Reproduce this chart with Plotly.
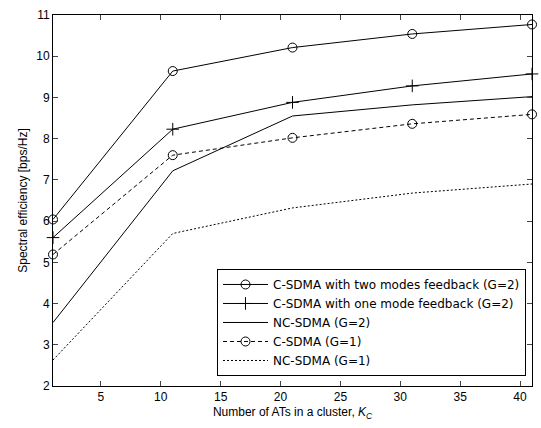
import plotly.graph_objects as go

x_vals = [1, 11, 21, 31, 41]
c_two_g2 = [6.04, 9.64, 10.21, 10.54, 10.77]
c_one_g2 = [5.60, 8.23, 8.88, 9.28, 9.57]
nc_g2 = [3.54, 7.22, 8.55, 8.82, 9.02]
c_g1 = [5.19, 7.60, 8.02, 8.36, 8.59]
nc_g1 = [2.63, 5.70, 6.32, 6.68, 6.90]

names = [
    "C-SDMA with two modes feedback (G=2)",
    "C-SDMA with one mode feedback (G=2)",
    "NC-SDMA (G=2)",
    "C-SDMA (G=1)",
    "NC-SDMA (G=1)",
]
x_ticks = [5, 10, 15, 20, 25, 30, 35, 40]
y_ticks = [2, 3, 4, 5, 6, 7, 8, 9, 10, 11]

FONT = "Liberation Sans, Arial, sans-serif"

series = [
    (c_two_g2, names[0], "solid", "circle-open"),
    (c_one_g2, names[1], "solid", "cross-thin-open"),
    (nc_g2, names[2], "solid", None),
    (c_g1, names[3], "4px,3px", "circle-open"),
    (nc_g1, names[4], "2px,2px", None),
]

fig = go.Figure()
for y, name, dash, sym in series:
    mode = "lines+markers" if sym else "lines"
    kw = {}
    if sym:
        kw["marker"] = dict(symbol=sym, size=9,
                            color="black", line=dict(width=1, color="black"))
    fig.add_trace(go.Scatter(x=x_vals, y=y, name=name, mode=mode,
                             line=dict(color="black", width=1, dash=dash),
                             cliponaxis=False, **kw))

fig.update_layout(
    width=541, height=428,
    margin=dict(l=53, r=8, t=12, b=42),
    paper_bgcolor="white", plot_bgcolor="white",
    font=dict(family=FONT, size=12, color="black"),
    showlegend=True,
    legend=dict(x=0.9875, y=0.027, xanchor="right", yanchor="bottom",
                bgcolor="white", bordercolor="black", borderwidth=1,
                font=dict(family="DejaVu Sans, sans-serif", size=12, color="black"),
                tracegroupgap=0, itemwidth=45),
)
fig.update_xaxes(range=[1, 41], tickvals=x_ticks, ticks="inside", ticklen=5,
                 showline=True, linecolor="black", linewidth=1, mirror="ticks",
                 showgrid=False, zeroline=False,
                 title=dict(text="Number of ATs in a cluster, <i>K</i><sub><i>C</i></sub>",
                            font=dict(family=FONT, size=12), standoff=4))
fig.update_yaxes(range=[2, 11], tickvals=y_ticks, ticks="inside", ticklen=5,
                 showline=True, linecolor="black", linewidth=1, mirror="ticks",
                 showgrid=False, zeroline=False,
                 title=dict(text="Spectral efficiency [bps/Hz]",
                            font=dict(family=FONT, size=12), standoff=6))

fig.write_html("out.html", config={"displayModeBar": False},
               post_script="document.body.style.margin='0px';")
